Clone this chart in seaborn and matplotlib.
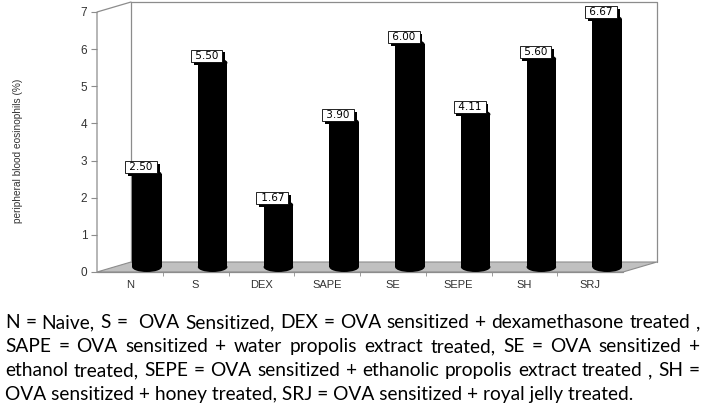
import matplotlib
matplotlib.use("Agg")
import matplotlib.pyplot as plt
import matplotlib.transforms as mtransforms
import matplotlib.patheffects as pe
from matplotlib.patches import Ellipse, Polygon
import pandas as pd
import seaborn as sns

# data
groups = ["N", "S", "DEX", "SAPE", "SE", "SEPE", "SH", "SRJ"]
eosinophils = [2.50, 5.50, 1.67, 3.90, 6.00, 4.11, 5.60, 6.67]
yticks = [0, 1, 2, 3, 4, 5, 6, 7]
ylabel = "peripheral blood eosinophils (%)"
caption = [
    "N = Naive, S =  OVA Sensitized, DEX = OVA sensitized + dexamethasone treated ,",
    "SAPE = OVA sensitized + water propolis extract treated, SE = OVA sensitized +",
    "ethanol treated, SEPE = OVA sensitized + ethanolic propolis extract treated , SH =",
    "OVA sensitized + honey treated, SRJ = OVA sensitized + royal jelly treated.",
]

sns.set_style("white")
plt.rcParams["font.family"] = ["Liberation Sans", "DejaVu Sans"]

W, H, DPI = 706, 407, 100
fig = plt.figure(figsize=(W / DPI, H / DPI), dpi=DPI)

# front plane of the pseudo-3D box (pixels)
x0, x1, y0, y1 = 97, 623, 272, 12
depth_x, depth_y = 34, 10
ax = fig.add_axes([x0 / W, 1 - y0 / H, (x1 - x0) / W, (y0 - y1) / H])

df = pd.DataFrame({"group": groups, "value": eosinophils})
sns.barplot(data=df, x="group", y="value", color="black", saturation=1,
            width=0.45, edgecolor="none", ax=ax, zorder=3)
ax.set_xlim(-0.5, len(groups) - 0.5)
ax.set_ylim(0, 7)
for s in ax.spines.values():
    s.set_visible(False)

px_x = (x1 - x0) / len(groups)  # pixels per x unit
px_y = (y0 - y1) / 7            # pixels per y unit
dxd, dyd = depth_x / px_x, depth_y / px_y


def shifted(dx, dy):
    return ax.transData + mtransforms.ScaledTranslation(dx / DPI, dy / DPI, fig.dpi_scale_trans)


mid = shifted(depth_x / 2, depth_y / 2)
back = shifted(depth_x, depth_y)
line_col = "#8c8c8c"
left, right = -0.5, len(groups) - 0.5

# floor
floor = Polygon([(left, 0), (right, 0), (right + dxd, dyd), (left + dxd, dyd)],
                closed=True, fc="#c0c0c0", ec=line_col, lw=0.8, clip_on=False, zorder=1)
ax.add_patch(floor)
# back wall + left wall edges
ax.plot([left, left, right, right], [0, 7, 7, 0], color=line_col, lw=0.9,
        transform=back, clip_on=False, zorder=1)
ax.plot([left, left, left + dxd], [0, 7, 7 + dyd], color=line_col, lw=0.9,
        clip_on=False, zorder=1)

# cylinders
for p in ax.patches:
    if p is not floor:
        p.set_transform(mid)
        p.set_clip_on(False)
for i, v in enumerate(eosinophils):
    for yy in (0, v):
        ax.add_patch(Ellipse((i, yy), 0.45, 10 / px_y, fc="black", ec="none",
                             transform=mid, clip_on=False, zorder=3))
    t = ax.annotate(f" {v:.2f} ", xy=(i, v), xytext=(11, 12), textcoords="offset pixels",
                    ha="center", va="center", fontsize=7.5, color="black", family="DejaVu Sans",
                    bbox=dict(boxstyle="square,pad=0.1", fc="white", ec="black", lw=0.6),
                    zorder=5, annotation_clip=False)
    t.get_bbox_patch().set_path_effects(
        [pe.SimplePatchShadow(offset=(2, -2), shadow_rgbFace="black", alpha=1), pe.Normal()])

ax.set_yticks(yticks)
ax.set_yticklabels([str(v) for v in yticks])
ax.set_xticks(range(len(groups)))
ax.set_xticklabels(groups)
ax.set_xticks([i + 0.5 for i in range(len(groups) - 1)], minor=True)
ax.tick_params(axis="y", length=4, color=line_col, labelsize=8.5, labelcolor="#333333", pad=3, left=True)
ax.tick_params(axis="x", which="major", length=0, labelsize=8, labelcolor="#333333", pad=6)
ax.tick_params(axis="x", which="minor", length=3, color=line_col, bottom=True)
ax.set_xlabel("")
ax.set_ylabel("")
ax.plot([left, right], [0, 0], color=line_col, lw=0.9, clip_on=False, zorder=2)

fig.text(18 / W, 1 - 151 / H, ylabel, rotation=90, ha="center", va="center",
         fontsize=7.3, color="#333333")

# caption, justified like the source
renderer = fig.canvas.get_renderer()
cap_font = ["Lato", "DejaVu Sans"]
probe = fig.text(0, 0, caption[-1], fontsize=14, family=cap_font)
fs = 14 * 632 / probe.get_window_extent(renderer).width
probe.remove()

baselines = [328, 352, 376, 400]
text_left, text_right = 5, 700
for k, line in enumerate(caption):
    yb = 1 - baselines[k] / H
    if k == len(caption) - 1:
        fig.text(text_left / W, yb, line, fontsize=fs, family=cap_font, va="baseline", color="black")
        continue
    words = line.split(" ")
    widths = []
    for w in words:
        if w:
            tt = fig.text(0, 0, w, fontsize=fs, family=cap_font)
            widths.append(tt.get_window_extent(renderer).width)
            tt.remove()
        else:
            widths.append(0)
    gap = (text_right - text_left - sum(widths)) / (len(words) - 1)
    x = text_left
    for w, wd in zip(words, widths):
        if w:
            fig.text(x / W, yb, w, fontsize=fs, family=cap_font, va="baseline", color="black")
        x += wd + gap

fig.savefig("out.png", dpi=DPI)
